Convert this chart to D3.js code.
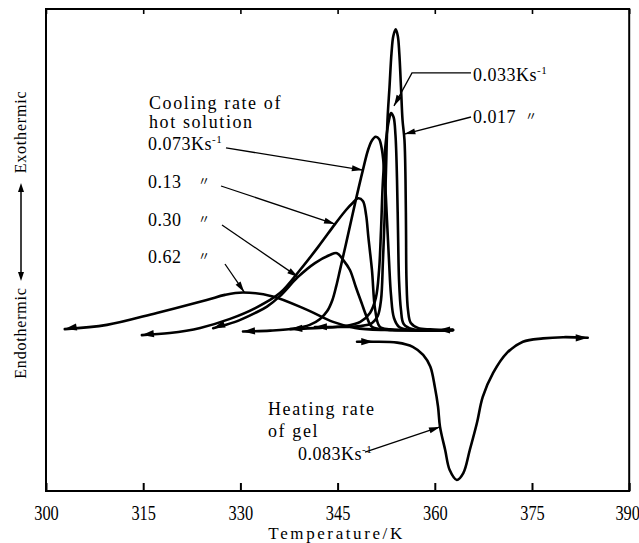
<!DOCTYPE html>
<html>
<head>
<meta charset="utf-8">
<script src="https://cdn.jsdelivr.net/npm/d3@7"></script>
<style>
  html, body { margin: 0; padding: 0; background: #fff; }
  svg { display: block; font-family: "Liberation Serif", "DejaVu Serif", serif; }
</style>
</head>
<body>
<svg id="chart" width="639" height="543"></svg>
<script>
// Temperature axis ticks (K)
const tempTicks = [300, 315, 330, 345, 360, 375, 390];

// DSC traces: [temperature / K, heat flow / arbitrary units], exothermic up.
// Cooling runs of the hot solution (traced from high to low temperature).
const cool017 = [
  [341.5, 1.0], [345.4, 1.0], [348.5, 1.3], [350.3, 2.3], [351.2, 4.7], [351.7, 10.0],
  [352.0, 23.3], [352.24, 36.7], [352.47, 53.3], [352.7, 70.0], [353.01, 81.0], [353.32, 92.3],
  [353.6, 98.0], [353.97, 100.2], [354.29, 98.0], [354.52, 92.3], [354.78, 81.0], [355.02, 70.0],
  [355.32, 63.3], [355.48, 50.0], [355.56, 33.3], [355.63, 16.7], [355.86, 6.7], [356.3, 2.3],
  [357.4, 0.7], [359.3, 0.2], [362.8, 0]
];
const cool033 = [
  [337.7, 0.3], [342.3, 0.7], [346.1, 1.3], [348.5, 2.7], [350.0, 5.7], [350.9, 10.7],
  [351.4, 20.0], [351.7, 33.3], [352.0, 50.0], [352.47, 63.3], [352.93, 70.0], [353.24, 72.3],
  [353.63, 71.0], [353.93, 65.0], [354.17, 50.0], [354.32, 33.3], [354.48, 16.7], [354.78, 6.7],
  [355.2, 2.0], [356.5, 0.3], [362.8, 0]
];
const cool073 = [
  [330.4, -0.5], [334.6, -0.2], [338.4, 0.5], [340.7, 1.7], [342.3, 3.7], [343.4, 6.3],
  [344.2, 10.0], [344.8, 14.7], [345.4, 20.3], [346.5, 30.7], [347.7, 42.3], [348.9, 53.3],
  [349.7, 60.0], [350.3, 63.2], [350.88, 64.4], [351.4, 63.7], [351.85, 60.0], [352.3, 50.0],
  [352.62, 36.7], [352.93, 23.3], [353.24, 11.7], [353.7, 4.0], [354.5, 1.0], [356.2, 0], [362.8, 0]
];
const cool013 = [
  [314.8, -1.7], [319.1, -1.0], [323.8, 0.7], [328.4, 3.7], [332.3, 7.3], [336.1, 12.3],
  [339.2, 20.0], [342.0, 27.7], [344.6, 35.3], [346.3, 40.0], [347.4, 42.5], [348.19, 43.9],
  [348.9, 43.0], [349.4, 38.3], [349.74, 31.1], [350.3, 20.0], [350.8, 6.7], [351.5, 1.1],
  [353.1, 0.2], [362.8, 0]
];
const cool030 = [
  [325.8, 0.6], [329.2, 2.7], [332.3, 5.7], [334.1, 7.8], [336.1, 11.3], [338.9, 17.7],
  [341.5, 22.3], [343.8, 25.0], [344.9, 25.6], [345.88, 23.3], [346.9, 20.0], [347.8, 14.4],
  [348.72, 8.9], [349.49, 4.4], [350.3, 1.1], [352.3, 0.2], [362.8, 0]
];
const cool062 = [
  [302.9, 0.3], [309.4, 1.7], [317.1, 5.7], [324.8, 10.0], [327.6, 11.7], [330.4, 12.5],
  [335.0, 11.2], [340.3, 6.7], [344.3, 2.7], [347.7, 0.7], [352.3, 0], [362.8, 0]
];
// Heating run of the gel (traced from low to high temperature), endothermic down.
const heat083 = [
  [348.0, -3.9], [350.5, -3.9], [354.2, -4.2], [356.6, -5.6], [358.2, -8.3], [359.3, -12.2],
  [360.0, -18.9], [360.5, -25.6], [360.8, -32.2], [361.6, -40.0], [362.3, -46.7], [363.4, -50.0],
  [364.4, -47.7], [365.4, -40.0], [366.5, -31.0], [367.4, -22.3], [369.0, -14.3], [371.1, -7.7],
  [373.6, -3.9], [376.7, -2.8], [379.8, -2.4], [383.6, -2.6]
];

const coolingSeries = [cool017, cool033, cool073, cool013, cool030, cool062];

// Rate labels
const coolingTitle = ["Cooling rate of", "hot solution"];
const coolingRates = ["0.073", "0.13", "0.30", "0.62"];
const coolingRatesHigh = ["0.033", "0.017"];
const heatingTitle = ["Heating rate", "of gel"];
const heatingRate = "0.083";
const unitText = "Ks";
const unitExp = "-1";
const dittoMark = "\u3003";
const xTitle = "Temperature/K";
const yTitleUp = "Exothermic";
const yTitleDown = "Endothermic";

// ---------------------------------------------------------------
const svg = d3.select("#chart");
const x = d3.scaleLinear().domain([300, 390]).range([46, 629.2]);
const y = d3.scaleLinear().domain([-53.67, 107]).range([491, 9]);

const line = d3.line()
  .x(d => x(d[0]))
  .y(d => y(d[1]))
  .curve(d3.curveCatmullRom.alpha(0.5));

function arrowHead(g, tip, from, len, half) {
  const dx = tip[0] - from[0], dy = tip[1] - from[1];
  const d = Math.hypot(dx, dy) || 1;
  const ux = dx / d, uy = dy / d;
  const bx = tip[0] - ux * len, by = tip[1] - uy * len;
  g.append("path")
    .attr("d", `M${tip[0]},${tip[1]}L${bx - uy * half},${by + ux * half}L${bx + uy * half},${by - ux * half}Z`)
    .attr("fill", "#000");
}
const px = p => [x(p[0]), y(p[1])];

// Frame
svg.append("rect")
  .attr("x", x(300)).attr("y", y(107))
  .attr("width", x(390) - x(300)).attr("height", y(-53.67) - y(107))
  .attr("fill", "none").attr("stroke", "#000").attr("stroke-width", 2);

// Bottom axis (inward ticks)
const axB = svg.append("g").attr("transform", `translate(0,${y(-53.67)})`)
  .call(d3.axisBottom(x).tickValues(tempTicks).tickSize(-8).tickPadding(13).tickFormat(d3.format("d")));
axB.select(".domain").remove();
axB.selectAll(".tick line").attr("stroke-width", 2);
axB.selectAll(".tick text")
  .attr("font-size", 20).attr("font-family", "Liberation Serif, serif")
  .attr("transform", (d, i, n) => `translate(${i === n.length - 1 ? -2 : 0},0) scale(0.82,1.05)`);

// Top axis (inward ticks, no labels)
const axT = svg.append("g").attr("transform", `translate(0,${y(107)})`)
  .call(d3.axisTop(x).tickValues(tempTicks).tickSize(-5).tickFormat(""));
axT.select(".domain").remove();
axT.selectAll(".tick line").attr("stroke-width", 1.6);

// X title
svg.append("text").attr("x", (x(300) + x(390)) / 2 - 1).attr("y", 539)
  .attr("text-anchor", "middle").attr("font-size", 17).attr("letter-spacing", 2.6)
  .text(xTitle);

// Y title with double arrow
svg.append("text").attr("transform", "translate(26,132) rotate(-90)")
  .attr("text-anchor", "middle").attr("font-size", 16).attr("letter-spacing", 0.8).text(yTitleUp);
svg.append("text").attr("transform", "translate(26,333) rotate(-90)")
  .attr("text-anchor", "middle").attr("font-size", 16).attr("letter-spacing", 0.8).text(yTitleDown);
const yArrow = svg.append("g");
yArrow.append("line").attr("x1", 21).attr("x2", 21).attr("y1", 190).attr("y2", 274)
  .attr("stroke", "#000").attr("stroke-width", 1.5);
arrowHead(yArrow, [21, 183], [21, 200], 9, 3);
arrowHead(yArrow, [21, 281], [21, 260], 9, 3);

// Curves
const curves = svg.append("g").attr("fill", "none").attr("stroke", "#000")
  .attr("stroke-width", 2.6).attr("stroke-linejoin", "round").attr("stroke-linecap", "round");
coolingSeries.forEach(s => curves.append("path").attr("d", line(s)));
curves.append("path").attr("d", line(heat083));

// Direction arrows on the traces
const marks = svg.append("g");
coolingSeries.forEach(s => arrowHead(marks, px(s[0]), px(s[2]), 12, 3.6));
arrowHead(marks, px([360.5, 0]), px([362.8, 0]), 12, 3.6);
arrowHead(marks, px([350.5, -3.9]), px([348.0, -3.9]), 12, 3.6);
arrowHead(marks, px(heat083[heat083.length - 1]), px(heat083[heat083.length - 3]), 12, 3.6);

// Leader arrows for the rate labels: [start, (corner), tip] in data units
const leaders = [
  [[327.78, 60.7], [348.9, 53.3]],
  [[327.01, 48.0], [344.6, 35.3]],
  [[327.16, 35.0], [338.9, 17.7]],
  [[327.62, 22.0], [330.6, 12.6]],
  [[365.59, 85.7], [356.48, 85.7], [353.7, 74.7]],
  [[365.59, 71.0], [355.3, 65.3]],
  [[349.23, -40.7], [360.8, -32.3]]
];
const lead = svg.append("g");
leaders.forEach(pts => {
  const p = pts.map(px);
  lead.append("path").attr("d", d3.line()(p))
    .attr("fill", "none").attr("stroke", "#000").attr("stroke-width", 1.3);
  arrowHead(lead, p[p.length - 1], p[p.length - 2], 11, 3);
});

// Text labels
const lab = svg.append("g").attr("font-size", 18);
function rateText(g, xp, yp, rate, withUnit) {
  const t = g.append("text").attr("x", xp).attr("y", yp).attr("letter-spacing", 0.5).text(rate);
  if (withUnit) {
    t.append("tspan").text(unitText);
    t.append("tspan").attr("dy", -7).attr("font-size", 11).text(unitExp);
  }
  return t;
}
function ditto(g, xp, yp) {
  g.append("text").attr("x", xp).attr("y", yp - 2).attr("font-size", 12)
    .attr("font-family", "Noto Sans CJK JP, sans-serif").text(dittoMark);
}
coolingTitle.forEach((s, i) =>
  lab.append("text").attr("x", 149).attr("y", 109 + i * 19).attr("letter-spacing", 1.6).text(s));
rateText(lab, 148, 150, coolingRates[0], true);
[188, 226, 263].forEach((yy, i) => {
  rateText(lab, 148, yy, coolingRates[i + 1], false);
  ditto(lab, 198, yy);
});
rateText(lab, 473, 81, coolingRatesHigh[0], true);
rateText(lab, 473, 123, coolingRatesHigh[1], false);
ditto(lab, 525, 123);
heatingTitle.forEach((s, i) =>
  lab.append("text").attr("x", 268).attr("y", 415 + i * 22).attr("letter-spacing", 1.6).text(s));
rateText(lab, 298, 460, heatingRate, true);
</script>
</body>
</html>
